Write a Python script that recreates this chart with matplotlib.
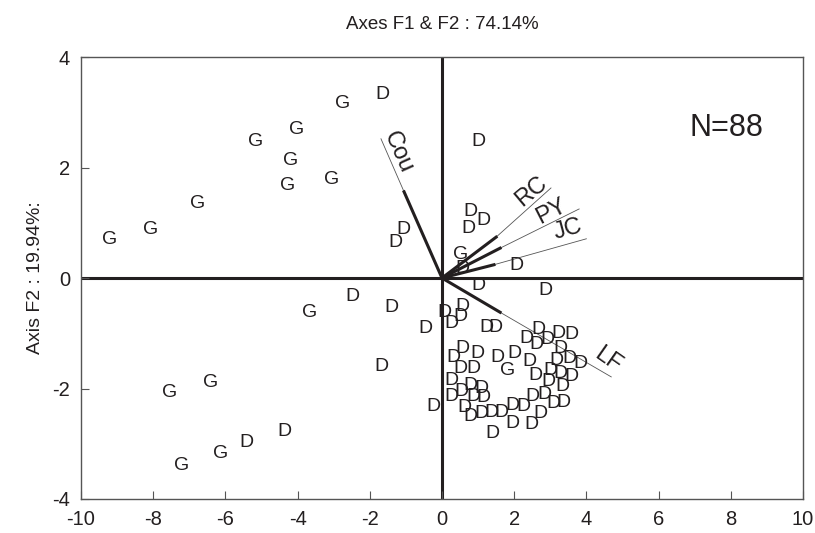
import matplotlib
matplotlib.use("Agg")
import matplotlib.pyplot as plt

plt.rcParams["axes.unicode_minus"] = False   # 刻度用普通连字符 "-"

# ===== 数据（从图中读出的坐标）=====
# G 组样本
g_x = [-9.21, -8.07, -6.77, -5.16, -4.02, -4.19, -4.27, -3.05, -2.75,
       -3.66, -7.55, -6.41, -7.21, -6.13, 0.53, 1.83]
g_y = [0.69, 0.87, 1.34, 2.48, 2.68, 2.12, 1.68, 1.79, 3.15,
       -0.62, -2.08, -1.90, -3.39, -3.17, 0.42, -1.68]

# D 组样本
d_x = [-1.66, -1.08, -1.30, 1.00,
       -2.47, -1.39, -0.47, -1.69, -5.41, -4.36, -0.25,
       0.78, 1.16, 0.72, 0.58, 2.05, 1.00, 2.88,
       0.08, 0.58, 0.50, 0.25, 1.22, 1.47, 2.66, 2.33, 2.61, 2.91, 3.22, 3.58,
       3.27, 0.58, 0.31, 0.97, 1.55, 2.00, 2.41, 3.16, 3.52, 3.83, 0.50, 0.86,
       2.58, 3.00, 3.27, 3.58, 0.25, 0.78, 1.08, 2.94, 3.33, 0.25, 0.53, 0.86,
       1.14, 2.52, 2.83, 3.08, 3.36, 0.61, 0.80, 1.08, 1.36, 1.64, 1.94, 2.27,
       2.72, 1.94, 2.47, 1.41]
d_y = [3.32, 0.87, 0.65, 2.48,
       -0.34, -0.53, -0.91, -1.61, -2.97, -2.77, -2.33,
       1.20, 1.05, 0.90, 0.18, 0.22, -0.14, -0.22,
       -0.62, -0.52, -0.70, -0.82, -0.89, -0.89, -0.94, -1.09, -1.21, -1.12, -1.00, -1.03,
       -1.27, -1.27, -1.43, -1.36, -1.43, -1.36, -1.52, -1.49, -1.45, -1.54, -1.63, -1.63,
       -1.76, -1.67, -1.72, -1.78, -1.85, -1.94, -2.00, -1.88, -1.97, -2.15, -2.06, -2.14,
       -2.17, -2.14, -2.10, -2.28, -2.25, -2.35, -2.50, -2.45, -2.43, -2.43, -2.30, -2.33,
       -2.45, -2.63, -2.66, -2.81]

# 变量向量：粗线端点、细线延长端点、标签位置与角度
var_names = ["Cou", "RC", "PY", "JC", "LF"]
var_x = [-1.05, 1.50, 1.61, 1.44, 1.61]
var_y = [1.56, 0.74, 0.54, 0.24, -0.62]
ext_x = [-1.69, 3.02, 3.80, 4.00, 4.69]
ext_y = [2.52, 1.63, 1.25, 0.71, -1.79]
lab_x = [-1.22, 2.47, 3.02, 3.50, 4.60]
lab_y = [2.28, 1.56, 1.20, 0.87, -1.49]
lab_rot = [-66, 40, 27, 15, -35]

FONT = "Liberation Sans"
INK = "#231f20"

fig = plt.figure(figsize=(8.15, 5.33), dpi=100)
ax = fig.add_axes([0.0994, 0.0638, 0.8858, 0.8292])

ax.set_xlim(-10, 10)
ax.set_ylim(-4, 4)

# 中心十字轴
ax.axhline(0, color=INK, lw=2.2, zorder=1)
ax.axvline(0, color=INK, lw=2.2, zorder=1)

# 变量向量
for i in range(len(var_names)):
    ax.plot([var_x[i], ext_x[i]], [var_y[i], ext_y[i]], color="#555555", lw=0.6, zorder=2)
    ax.plot([0, var_x[i]], [0, var_y[i]], color=INK, lw=2.2, zorder=2)
    ax.text(lab_x[i], lab_y[i], var_names[i], fontsize=17, family=FONT, color=INK,
            rotation=lab_rot[i], ha="center", va="center", rotation_mode="anchor")

# 样本点（用字母当标记）
for x, y in zip(g_x, g_y):
    ax.text(x, y, "G", fontsize=14, family=FONT, color=INK, ha="center", va="center", zorder=3)
for x, y in zip(d_x, d_y):
    ax.text(x, y, "D", fontsize=14, family=FONT, color=INK, ha="center", va="center", zorder=3)

ax.text(7.88, 2.72, "N=88", fontsize=22, family=FONT, color=INK, ha="center", va="center")

# 坐标轴样式
ax.set_xticks(range(-10, 11, 2))
ax.set_yticks([-4, -2, 0, 2, 4])
ax.tick_params(direction="in", length=6, width=0.8, color="#555555",
               labelsize=14.5, labelcolor=INK, pad=8)
for lbl in ax.get_xticklabels() + ax.get_yticklabels():
    lbl.set_family(FONT)
for s in ax.spines.values():
    s.set_color("#555555")
    s.set_linewidth(1.0)

ax.set_title("Axes F1 & F2 : 74.14%", fontsize=13.5, family=FONT, color=INK, pad=20)
ax.set_ylabel("Axis F2 : 19.94%:", fontsize=14, family=FONT, color=INK, labelpad=6)

fig.savefig("out.png", dpi=100)
